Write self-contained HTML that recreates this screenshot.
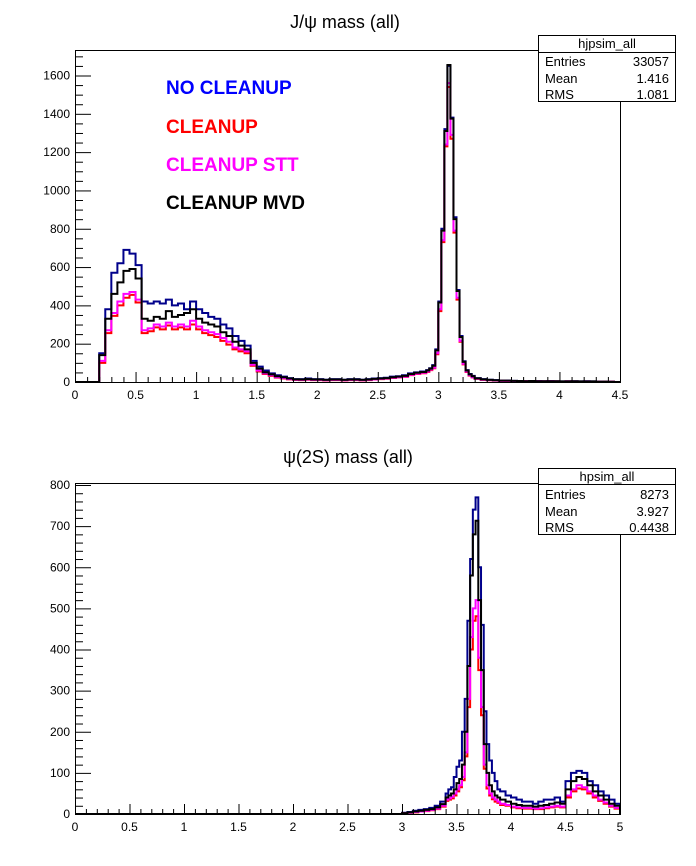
<!DOCTYPE html>
<html><head><meta charset="utf-8"><style>
body{margin:0;background:#fff;}
svg{display:block;font-family:"Liberation Sans",Arial,sans-serif;}
</style></head><body>
<svg id="c" width="696" height="866" viewBox="0 0 696 866" xmlns="http://www.w3.org/2000/svg">
<rect width="696" height="866" fill="#fff"/>
<text x="345" y="28" font-size="18" text-anchor="middle">J/ψ mass (all)</text>
<text x="348" y="463" font-size="18" text-anchor="middle">ψ(2S) mass (all)</text>
<g id="top"></g>
<g id="bot"></g>
<g font-weight="bold" font-size="19">
<text x="166" y="94" fill="#0000ff">NO CLEANUP</text>
<text x="166" y="133" fill="#ff0000">CLEANUP</text>
<text x="166" y="171" fill="#ff00ff">CLEANUP STT</text>
<text x="166" y="209" fill="#000">CLEANUP MVD</text>
</g>
<g>
<rect x="538.5" y="35.5" width="137" height="66" fill="#fff" stroke="#000"/>
<line x1="538.5" y1="52.5" x2="675.5" y2="52.5" stroke="#000"/>
<g font-size="13"><text x="607" y="48" text-anchor="middle">hjpsim_all</text>
<text x="545" y="66">Entries</text><text x="669" y="66" text-anchor="end">33057</text>
<text x="545" y="83">Mean</text><text x="669" y="83" text-anchor="end">1.416</text>
<text x="545" y="99">RMS</text><text x="669" y="99" text-anchor="end">1.081</text></g>
</g>
<g>
<rect x="538.5" y="468.5" width="137" height="66" fill="#fff" stroke="#000"/>
<line x1="538.5" y1="484.5" x2="675.5" y2="484.5" stroke="#000"/>
<g font-size="13"><text x="607" y="481" text-anchor="middle">hpsim_all</text>
<text x="545" y="499">Entries</text><text x="669" y="499" text-anchor="end">8273</text>
<text x="545" y="516">Mean</text><text x="669" y="516" text-anchor="end">3.927</text>
<text x="545" y="532">RMS</text><text x="669" y="532" text-anchor="end">0.4438</text></g>
</g>
</svg>
<script>
// ---------- top (J/psi) data: bin low edges (0.05 up to 2.9, 0.025 to 3.3, 0.05 to 4.5) ----------
const topLowStart = [0.0, 2.9, 3.3];
const topBinWidth = [0.05, 0.025, 0.05];
const topBinCount = [58, 16, 24];
const topBlue = [0,0,0,0,
150,380,570,620,690,670,610,420,410,420,410,430,400,410,380,420,380,360,340,330,300,280,240,215,190,110,80,60,45,35,28,20,15,15,18,15,15,12,15,15,12,15,15,12,15,18,20,22,28,30,35,45,50,55,
62,72,88,170,420,800,1320,1650,1380,860,480,240,108,62,42,32,
20,15,12,10,8,8,6,5,5,5,5,4,5,4,3,4,4,3,4,3,2,2,1,0];
const topBlack = [0,0,0,0,
140,330,460,520,580,590,540,330,320,340,330,370,340,350,360,380,330,310,300,290,260,240,210,190,170,100,70,50,40,30,25,18,14,13,15,13,13,11,13,13,11,13,13,11,13,16,18,20,25,28,32,42,48,52,
60,70,85,165,415,790,1310,1655,1375,850,475,235,105,60,40,30,
19,14,11,9,7,7,6,5,4,5,4,4,4,4,3,3,4,3,3,3,2,2,1,0];
const topMagenta = [0,0,0,0,
110,270,360,420,460,470,430,270,280,300,290,310,290,300,290,320,290,270,260,250,230,210,180,170,160,90,60,45,35,25,20,15,12,11,13,11,11,9,11,11,9,11,11,9,11,14,16,18,22,25,28,38,44,48,
55,65,75,150,380,740,1240,1560,1290,790,440,215,95,55,35,25,
17,12,10,8,6,6,5,4,4,4,4,3,4,3,2,3,3,2,3,2,2,1,1,0];
const topRed = [0,0,0,0,
100,255,345,400,440,455,415,255,265,285,275,295,275,285,275,300,275,255,245,235,215,195,170,160,150,85,55,42,32,23,18,14,11,10,12,10,10,8,10,10,8,10,10,8,10,13,15,17,21,24,27,36,42,46,
52,62,72,145,370,730,1230,1540,1270,780,430,210,92,52,33,24,
16,11,9,7,6,5,5,4,4,3,3,3,3,3,2,3,2,2,2,2,1,1,1,0];
const topYTicks = [0,200,400,600,800,1000,1200,1400,1600];
const topXTicks = ["0","0.5","1","1.5","2","2.5","3","3.5","4","4.5"];

// ---------- bottom (psi(2S)) data: 0.05 to 3.4, 0.025 to 3.9, 0.05 to 5 ----------
const botLowStart = [0.0, 3.4, 3.9];
const botBinWidth = [0.05, 0.025, 0.05];
const botBinCount = [68, 20, 22];
const botPre = 60; // zero bins from 0 to 3.0
const botBlue = [3,5,8,10,12,15,20,30,
50,60,65,90,115,130,200,280,470,620,740,770,600,460,250,170,130,100,80,60,
55,45,40,35,30,30,25,30,35,35,40,30,80,100,105,100,80,70,55,45,35,25];
const botBlack = [2,4,6,8,10,12,16,24,
40,45,50,60,75,85,120,200,360,580,680,713,520,350,170,100,70,55,45,40,
35,30,25,22,20,20,18,20,22,25,28,25,60,80,90,85,70,55,45,35,25,20];
const botMagenta = [2,3,5,6,8,10,13,20,
35,38,42,50,60,70,90,150,280,430,500,520,380,260,120,70,50,40,35,30,
25,22,18,16,15,15,13,14,16,18,20,18,45,60,70,65,55,45,35,28,20,15];
const botRed = [2,3,4,6,7,9,12,18,
32,35,38,45,55,65,82,140,260,400,470,481,350,240,110,62,45,36,30,27,
22,20,16,14,13,13,12,12,14,16,18,16,40,55,62,60,50,40,32,25,18,13];
const botYTicks = [0,100,200,300,400,500,600,700,800];
const botXTicks = ["0","0.5","1","1.5","2","2.5","3","3.5","4","4.5","5"];

const NS="http://www.w3.org/2000/svg";
function mk(tag,attrs,parent){const e=document.createElementNS(NS,tag);for(const k in attrs)e.setAttribute(k,attrs[k]);parent.appendChild(e);return e;}
function edges(starts,widths,counts){const e=[];for(let s=0;s<starts.length;s++){for(let i=0;i<counts[s];i++)e.push(+(starts[s]+i*widths[s]).toFixed(4));}const l=starts.length-1;e.push(+(starts[l]+counts[l]*widths[l]).toFixed(4));return e;}

function drawPanel(g,cfg){
  const {x0,x1,y0,y1,xmax,ymax,yTop,yTicks,xTicks,xMinor,yMinor,ed,series,prefix}=cfg;
  const sx=v=>x0+(x1-x0)*v/xmax, sy=v=>y0-(y0-y1)*v/ymax;
  // series
  series.forEach(s=>{
    let d="M"+sx(ed[0])+","+sy(0);
    for(let i=0;i<s.vals.length;i++){d+=" L"+sx(ed[i])+","+sy(s.vals[i])+" L"+sx(ed[i+1])+","+sy(s.vals[i]);}
    d+=" L"+sx(ed[s.vals.length])+","+sy(0);
    const p=mk("path",{d:d,fill:"none",stroke:s.color,"stroke-width":2,"stroke-linejoin":"miter"},g);
    
    
  });
  // frame
  const fr=mk("rect",{x:x0+0.5,y:yTop+0.5,width:x1-x0,height:y0-yTop,fill:"none",stroke:"#000","stroke-width":1},g);
  
  
  // y ticks
  const ya=mk("g",{},g);
  
  
  for(let v=0;sy(v)>=yTop;v+=yMinor){
    const major=yTicks.includes(v);
    mk("line",{x1:x0,x2:x0+(major?16:8),y1:sy(v)+0.5,y2:sy(v)+0.5,stroke:"#000"},ya);
  }
  yTicks.forEach(v=>{const t=mk("text",{x:x0-5,y:sy(v)+4,"font-size":12,"text-anchor":"end"},ya);t.textContent=v;
    
    });
  // x ticks
  const xa=mk("g",{},g);
  
  
  const n=Math.round(xmax/xMinor);
  for(let i=0;i<=n;i++){const v=i*xMinor;const major=(i%5===0);
    mk("line",{x1:sx(v)+0.5,x2:sx(v)+0.5,y1:y0,y2:y0-(major?10:5),stroke:"#000"},xa);}
  xTicks.forEach((lab,i)=>{const t=mk("text",{x:sx(i*0.5),y:y0+17,"font-size":12,"text-anchor":"middle"},xa);t.textContent=lab;
    
    });
}

const topEd=edges(topLowStart,topBinWidth,topBinCount);
drawPanel(document.getElementById("top"),{x0:75,x1:620,y0:382,y1:75.5,yTop:50,xmax:4.5,ymax:1600,yTicks:topYTicks,xTicks:topXTicks,xMinor:0.1,yMinor:50,ed:topEd,prefix:"top",
 series:[{name:"no-cleanup",color:"#00008b",vals:topBlue},{name:"cleanup",color:"#ff0000",vals:topRed},{name:"cleanup-stt",color:"#ff00ff",vals:topMagenta},{name:"cleanup-mvd",color:"#000",vals:topBlack}]});

const botEd=edges(botLowStart,botBinWidth,botBinCount);
function padB(a){return new Array(botPre).fill(0).concat(a);}
drawPanel(document.getElementById("bot"),{x0:75,x1:620,y0:814,y1:485,yTop:483,xmax:5,ymax:800,yTicks:botYTicks,xTicks:botXTicks,xMinor:0.1,yMinor:20,ed:botEd,prefix:"bottom",
 series:[{name:"no-cleanup",color:"#00008b",vals:padB(botBlue)},{name:"cleanup",color:"#ff0000",vals:padB(botRed)},{name:"cleanup-stt",color:"#ff00ff",vals:padB(botMagenta)},{name:"cleanup-mvd",color:"#000",vals:padB(botBlack)}]});
</script>
</body></html>
